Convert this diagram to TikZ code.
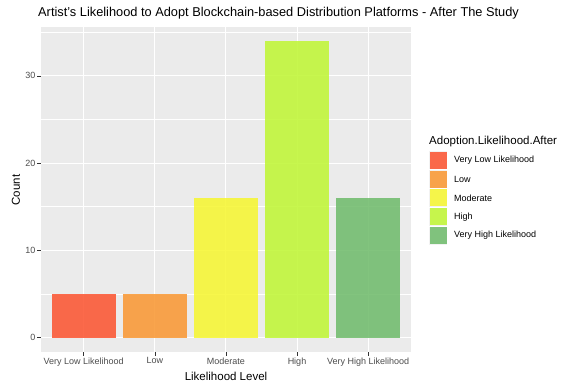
\documentclass[tikz,border=0pt]{standalone}
\usepackage{fontspec}
\setmainfont{Liberation Sans}
\usetikzlibrary{positioning}
\definecolor{panelgray}{HTML}{EBEBEB}
\definecolor{keygray}{HTML}{F2F2F2}
\definecolor{gray20}{HTML}{333333}
\definecolor{gray30}{HTML}{4D4D4D}
\definecolor{vlow}{HTML}{FC5633}
\definecolor{low}{HTML}{F99935}
\definecolor{moderate}{HTML}{F6F633}
\definecolor{high}{HTML}{C0F636}
\definecolor{vhigh}{HTML}{71BC6D}
\begin{document}
\begin{tikzpicture}[
    x=1pt, y=-1pt,
    font=\fontsize{9}{10}\selectfont,
    ticklabel/.style={
        text=gray30,
        inner sep=0pt,
        font=\fontsize{9}{10}\selectfont
    },
    axistitle/.style={
        inner sep=0pt,
        font=\fontsize{11.5}{13}\selectfont
    },
    keylabel/.style={
        anchor=west,
        inner sep=0pt,
        font=\fontsize{9}{10}\selectfont
    },
    bar/.style={
        fill opacity=0.88
    }
  ]
  \useasboundingbox (0,0) rectangle (569,385);
  \fill[white] (0,0) rectangle (569,385);

  % panel and grid
  \fill[panelgray] (41,27) rectangle (411,352);
  \foreach \v in {5,15,25,35}
    \draw[white, line width=0.5pt] (41,{337.5-8.72*\v}) -- (411,{337.5-8.72*\v});
  \foreach \v in {0,10,20,30}
    \draw[white, line width=1pt] (41,{337.5-8.72*\v}) -- (411,{337.5-8.72*\v});
  \foreach \i in {0,...,4}
    \draw[white, line width=1pt] ({83.7+71.1*\i},27) -- ({83.7+71.1*\i},352);

  % bars
  \foreach \i/\v/\c in {0/5/vlow, 1/5/low, 2/16/moderate, 3/34/high, 4/16/vhigh}
    \fill[bar, \c] ({83.7+71.1*\i-32},337.5) rectangle ({83.7+71.1*\i+32},{337.5-8.72*\v});

  % y axis
  \foreach \v in {0,10,20,30} {
    \draw[gray20, line width=0.5pt] (37.3,{337.5-8.72*\v}) -- (41,{337.5-8.72*\v});
    \node[ticklabel, anchor=east] (ylab\v) at (35.5,{337.5-8.72*\v}) {\v};
  }

  % x axis
  \foreach \i/\t in {0/Very Low Likelihood, 1/Low, 2/Moderate, 3/High, 4/Very High Likelihood} {
    \draw[gray20, line width=0.5pt] ({83.7+71.1*\i},352) -- ({83.7+71.1*\i},355.7);
    \node[ticklabel, anchor=north] (xlab\i) at ({83.7+71.1*\i},357.5) {\t};
  }

  % titles
  \node[anchor=west, inner sep=0pt, font=\fontsize{12.8}{15}\selectfont] (title) at (38,13)
    {Artist's Likelihood to Adopt Blockchain-based Distribution Platforms - After The Study};
  \node[axistitle] (xtitle) at (226,376) {Likelihood Level};
  \node[axistitle, rotate=90] (ytitle) at (16,190) {Count};

  % legend
  \node[axistitle, anchor=west] (legtitle) at (429,141.7) {Adoption.Likelihood.After};
  \foreach \j/\c/\t in {0/vlow/Very Low Likelihood, 1/low/Low, 2/moderate/Moderate,
                        3/high/High, 4/vhigh/Very High Likelihood} {
    \fill[keygray] (429,{151.3+18.8*\j}) rectangle (447,{169.3+18.8*\j});
    \fill[bar, \c] (429.5,{151.8+18.8*\j}) rectangle (446.5,{168.8+18.8*\j});
    \node[keylabel] (key\j) at (454,{160.3+18.8*\j}) {\t};
  }
\end{tikzpicture}
\end{document}
